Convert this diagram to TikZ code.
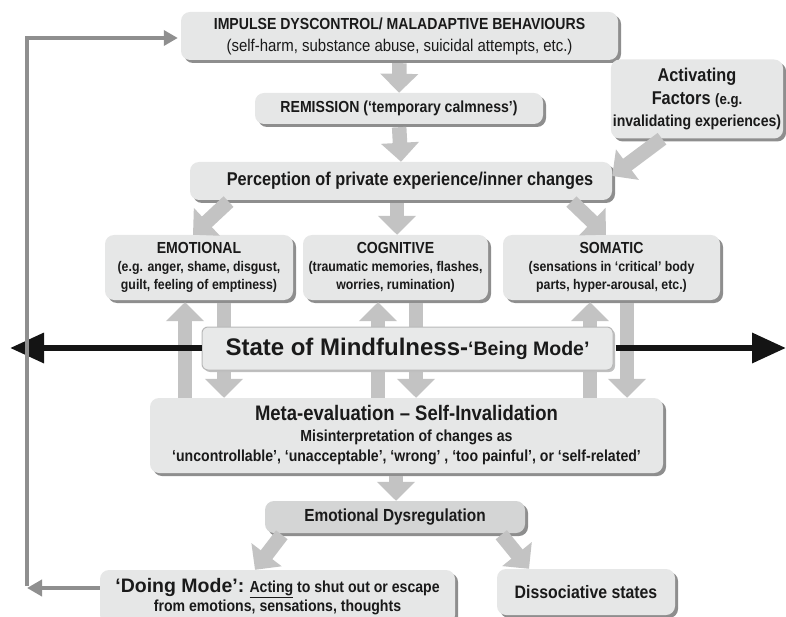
\documentclass[tikz,border=0pt]{standalone}
\usepackage{fontspec}
\setmainfont{Liberation Sans}[FakeStretch=0.88]
\newfontfamily\widefont{Liberation Sans}
\usetikzlibrary{arrows.meta,shadows}
\definecolor{boxfill}{HTML}{E6E7E7}
\definecolor{dysfill}{HTML}{D4D5D5}
\definecolor{shadowgray}{HTML}{8E8E8E}
\definecolor{arrowgray}{HTML}{C3C3C3}
\definecolor{fbgray}{HTML}{8F8F8F}
\definecolor{ink}{HTML}{1A1A1A}
\newcommand{\fsz}[1]{\fontsize{#1}{#1}\selectfont}
\newcommand{\lsp}[2]{\bfseries\fontsize{#1}{#2}\selectfont}
\begin{document}
\begin{tikzpicture}[x=1pt,y=-1pt,
  box/.style={rounded corners=9pt, fill=boxfill, inner sep=2pt, align=center, text=ink,
    font=\bfseries,
    drop shadow={shadow xshift=3pt, shadow yshift=-3pt, fill=shadowgray, opacity=1}},
  fat/.style={line width=14.5pt, draw=arrowgray, -{Triangle[width=37pt,length=19pt]}},
  blackarrow/.style={line width=6.5pt, draw=black!92, -{Triangle[width=29pt,length=34pt]}},
  fb/.style={line width=4pt, draw=fbgray, -{Triangle[width=16pt,length=15pt]}},
]
\useasboundingbox (0,0) rectangle (786,617);

% boxes
\node[box, font=\lsp{16}{22}, minimum width=437pt, minimum height=48pt] (impulse) at (399.5,36)
  {\fsz{16}IMPULSE DYSCONTROL/ MALADAPTIVE BEHAVIOURS\\
   {\mdseries\fsz{17}(self-harm, substance abuse, suicidal attempts, etc.)}};
\node[box, minimum width=288pt, minimum height=31pt] (remission) at (399,108.5)
  {\fsz{16}REMISSION (‘temporary calmness’)};
\node[box, font=\lsp{18.5}{22.5}, minimum width=170pt, minimum height=79pt] (activ) at (697,99)
  {\fsz{18.5}Activating\\\fsz{18.5}Factors {\fsz{15}(e.g.}\\\fsz{16}invalidating experiences)};
\node[box, minimum width=422pt, minimum height=38pt] (percep) at (401,181)
  {\hspace*{18pt}\fsz{18.5}Perception of private experience/inner changes};
\node[box, font=\lsp{15}{18}, minimum width=188pt, minimum height=65pt] (emo) at (199,267.5)
  {\fsz{16}EMOTIONAL\\\fsz{14}(e.g. anger, shame, disgust,\\\fsz{14}guilt, feeling of emptiness)};
\node[box, font=\lsp{15}{18}, minimum width=185pt, minimum height=65pt] (cog) at (395.5,267.5)
  {\fsz{16}COGNITIVE\\\fsz{14}(traumatic memories, flashes,\\\fsz{14}worries, rumination)};
\node[box, font=\lsp{15}{18}, minimum width=217pt, minimum height=65pt] (som) at (611.5,267.5)
  {\fsz{16}SOMATIC\\\fsz{14}(sensations in ‘critical’ body\\\fsz{14}parts, hyper-arousal, etc.)};
\node[box, font=\lsp{16}{20.5}, minimum width=513pt, minimum height=75pt] (meta) at (406.5,435.5)
  {\fsz{21}Meta-evaluation – Self-Invalidation\\
   \fsz{16}Misinterpretation of changes as\\
   \fsz{16}‘uncontrollable’, ‘unacceptable’, ‘wrong’ , ‘too painful’, or ‘self-related’};
\node[box, fill=dysfill, minimum width=260pt, minimum height=32pt] (dysreg) at (395,517)
  {\fsz{17.5}Emotional Dysregulation};
\node[box, font=\lsp{16}{19}, minimum width=355pt, minimum height=54pt] (doing) at (277.5,597)
  {{\widefont\fsz{19.5}‘Doing Mode’:} \fsz{16}\underline{Acting} to shut out or escape\\
   \fsz{16}from emotions, sensations, thoughts};
\node[box, minimum width=178pt, minimum height=46pt] (disso) at (586,592)
  {\fsz{18}Dissociative states};

% fat arrows
\draw[fat, shorten <=3pt] (impulse.south) -- (remission.north);
\draw[fat, shorten <=3pt] (remission.south) -- (percep.north);
\draw[fat] (activ.south -| 662,0) -- (percep.east |- 0,176);
\draw[fat, shorten <=2pt] (percep.south -| 230,0) -- (emo.north -| 193,0);
\draw[fat, shorten <=3pt] (percep.south -| 397,0) -- (cog.north -| 397,0);
\draw[fat, shorten <=2pt] (percep.south -| 570,0) -- (som.north -| 606,0);

\draw[fat] (meta.north -| 185,0) -- ([yshift=-2pt]emo.south -| 185,0);
\draw[fat, shorten <=3pt] (emo.south -| 224,0) -- (meta.north -| 224,0);
\draw[fat] (meta.north -| 378,0) -- ([yshift=-2pt]cog.south -| 378,0);
\draw[fat, shorten <=3pt] (cog.south -| 416,0) -- (meta.north -| 416,0);
\draw[fat] (meta.north -| 590,0) -- ([yshift=-2pt]som.south -| 590,0);
\draw[fat, shorten <=3pt] (som.south -| 627,0) -- (meta.north -| 627,0);

\draw[fat, shorten <=3pt] (meta.south -| 396,0) -- (dysreg.north -| 396,0);
\draw[fat, shorten <=2pt] (dysreg.south -| 283,0) -- (doing.north -| 255,0);
\draw[fat, shorten <=2pt] (dysreg.south -| 500,0) -- (disso.north -| 529,0);

% mindfulness box on top
\node[rounded corners=6pt, fill=boxfill!90!white, draw=black!28, line width=1pt,
  drop shadow={shadow xshift=2pt, shadow yshift=-2pt, fill=black!25, opacity=1},
  minimum width=411pt, minimum height=43pt, inner sep=2pt, text=ink, font=\bfseries] (mind) at (407.5,348.5)
  {{\widefont\fsz{24}State of Mindfulness-}{\widefont\fsz{19.5}‘Being Mode’}};
\coordinate (lend) at (10,348);
\coordinate (rend) at (786,348);
\draw[blackarrow] (mind.west |- lend) -- (lend);
\draw[blackarrow] ([xshift=2pt]mind.east |- rend) -- (rend);

% feedback loop
\coordinate (fbc) at (27,588);
\draw[fb] (doing.west |- fbc) -- (fbc);
\draw[fb, shorten >=3pt, -{Triangle[width=15pt,length=14pt]}] ([yshift=2pt]fbc) |- (impulse.west |- 0,38);
\end{tikzpicture}
\end{document}
